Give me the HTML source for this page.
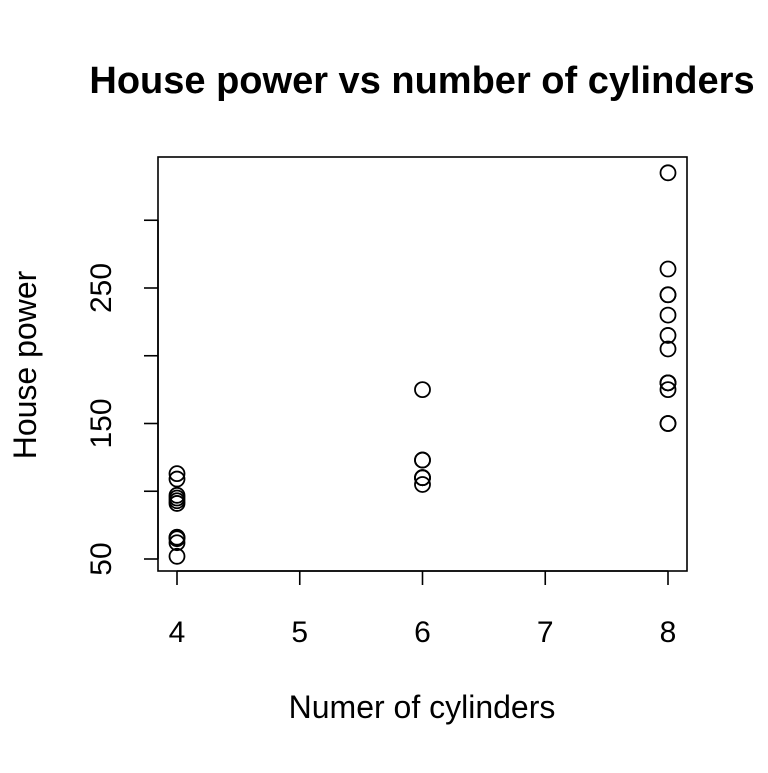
<!DOCTYPE html>
<html><head><meta charset="utf-8"><style>body{margin:0;background:#fff}svg{font-family:"Liberation Sans",Arial,sans-serif}</style></head>
<body>
<svg width="768" height="768">
<text x="422" y="93" text-anchor="middle" font-size="38" font-weight="bold">House power vs number of cylinders</text>
<rect x="158" y="157" width="529" height="414" fill="none" stroke="#000" stroke-width="1.6"/>
<g id="xaxis"></g>
<g id="yaxis"></g>
<g id="pts"></g>
<text x="422" y="718" text-anchor="middle" font-size="32">Numer of cylinders</text>
<text transform="translate(36,365) rotate(-90)" text-anchor="middle" font-size="32">House power</text>
</svg>
<script>
const cyl=[4,4,4,4,4,4,4,4,4,4,4,6,6,6,6,6,6,6,8,8,8,8,8,8,8,8,8,8,8,8,8];
const hp=[93,62,95,66,52,65,97,66,91,113,109,110,110,110,175,105,123,123,175,180,180,180,245,205,215,230,150,150,245,264,335];
const xTicks=[4,5,6,7,8];
const yTicks=[50,100,150,200,250,300];
const yLabels=["50","","150","","250",""];
const NS="http://www.w3.org/2000/svg";
const X=v=>177+(v-4)*122.75, Y=v=>559-(v-50)*1.355;
function mk(t,a,p){const e=document.createElementNS(NS,t);for(const k in a)e.setAttribute(k,a[k]);p.appendChild(e);return e;}
const xa=document.getElementById('xaxis'),ya=document.getElementById('yaxis'),pg=document.getElementById('pts');
mk('line',{x1:X(4),x2:X(8),y1:571,y2:571,stroke:'#000','stroke-width':1.6},xa);
xTicks.forEach(t=>{const l=mk('line',{x1:X(t),x2:X(t),y1:571,y2:585,stroke:'#000','stroke-width':1.6},xa);


const tx=mk('text',{x:X(t),y:642,'text-anchor':'middle','font-size':30},xa);tx.textContent=t;

});
mk('line',{x1:158,x2:158,y1:Y(50),y2:Y(300),stroke:'#000','stroke-width':1.6},ya);
yTicks.forEach((t,i)=>{const l=mk('line',{x1:144,x2:158,y1:Y(t),y2:Y(t),stroke:'#000','stroke-width':1.6},ya);


if(yLabels[i]){const tx=mk('text',{transform:`translate(111,${Y(t)}) rotate(-90)`,'text-anchor':'middle','font-size':30},ya);tx.textContent=yLabels[i];

}});
cyl.forEach((c,i)=>{const p=mk('circle',{cx:X(c),cy:Y(hp[i]),r:7.5,fill:'none',stroke:'#000','stroke-width':1.8},pg);

});
</script>
</body></html>
